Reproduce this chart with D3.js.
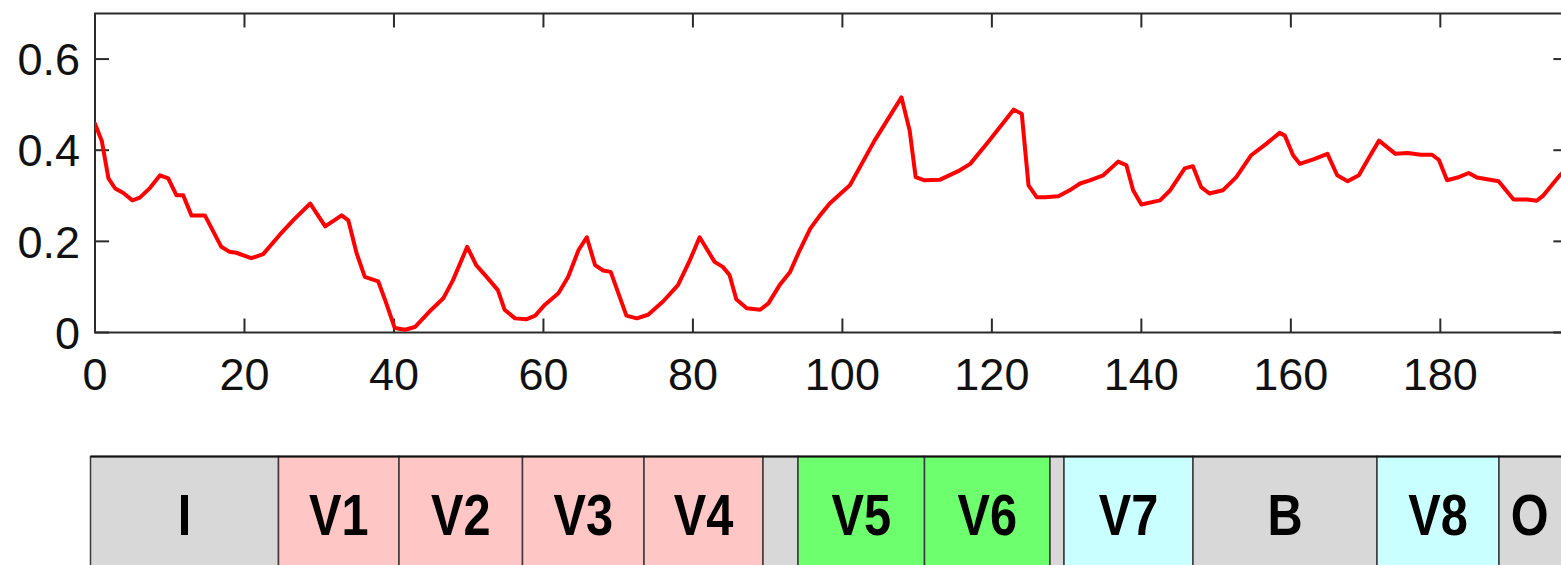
<!DOCTYPE html>
<html>
<head>
<meta charset="utf-8">
<script src="https://cdn.jsdelivr.net/npm/d3@7"></script>
<style>
  html, body { margin: 0; padding: 0; background: #fff; overflow: hidden; }
  svg { display: block; }
</style>
</head>
<body>
<svg id="chart" width="1561" height="565"></svg>
<script>
// ---- data ----
const xs = [0, 0.9, 1.8, 2.7, 3.8, 5.0, 6.0, 7.4, 8.7, 9.8, 10.9, 11.8, 12.9, 14.7, 16.9, 18.0, 18.9, 20.9, 22.5, 24.7, 26.5, 28.8, 30.8, 33.0, 33.9, 35.0, 36.1, 37.9, 38.8, 40.1, 41.5, 42.8, 45.0, 46.6, 47.9, 49.8, 51.0, 52.4, 53.9, 54.8, 56.2, 57.7, 58.9, 60.2, 62.0, 63.3, 64.7, 65.8, 66.9, 68.0, 69.0, 71.1, 72.5, 74.0, 76.0, 78.0, 79.6, 80.9, 82.9, 84.0, 84.9, 85.8, 87.2, 89.0, 90.1, 91.6, 93.0, 94.3, 95.7, 97.0, 98.3, 101.0, 104.3, 107.9, 109.0, 109.8, 111.0, 113.0, 115.5, 117.1, 119.5, 122.9, 124.0, 124.9, 126.0, 127.1, 128.9, 130.4, 131.8, 133.1, 134.9, 136.9, 138.0, 138.9, 140.0, 142.5, 143.8, 145.8, 146.9, 148.0, 149.1, 150.9, 152.7, 154.7, 156.7, 158.5, 159.2, 160.3, 161.2, 163.0, 164.9, 166.2, 167.6, 169.1, 170.5, 171.8, 174.0, 175.6, 177.4, 178.9, 179.8, 180.9, 182.3, 183.8, 184.9, 187.8, 189.8, 191.6, 192.9, 193.8, 196.0, 197.0];
const values = [0.458, 0.421, 0.338, 0.316, 0.306, 0.290, 0.296, 0.318, 0.345, 0.338, 0.301, 0.301, 0.257, 0.257, 0.188, 0.177, 0.175, 0.163, 0.172, 0.214, 0.246, 0.283, 0.233, 0.257, 0.246, 0.174, 0.122, 0.112, 0.072, 0.010, 0.006, 0.012, 0.050, 0.075, 0.115, 0.188, 0.148, 0.122, 0.093, 0.050, 0.031, 0.029, 0.037, 0.061, 0.086, 0.122, 0.181, 0.209, 0.148, 0.136, 0.133, 0.037, 0.031, 0.039, 0.068, 0.104, 0.159, 0.209, 0.155, 0.144, 0.126, 0.073, 0.053, 0.050, 0.064, 0.104, 0.133, 0.181, 0.228, 0.257, 0.283, 0.323, 0.421, 0.516, 0.443, 0.341, 0.334, 0.335, 0.354, 0.370, 0.418, 0.489, 0.480, 0.323, 0.297, 0.297, 0.299, 0.312, 0.327, 0.334, 0.345, 0.375, 0.367, 0.312, 0.281, 0.290, 0.311, 0.360, 0.365, 0.319, 0.305, 0.312, 0.341, 0.389, 0.414, 0.438, 0.432, 0.389, 0.370, 0.380, 0.392, 0.345, 0.332, 0.345, 0.385, 0.421, 0.392, 0.394, 0.390, 0.390, 0.379, 0.334, 0.340, 0.350, 0.340, 0.332, 0.292, 0.292, 0.289, 0.301, 0.345, 0.360];
const xTicks = [0, 20, 40, 60, 80, 100, 120, 140, 160, 180];
const yTicks = [0, 0.2, 0.4, 0.6];
const yTickLabels = ["0", "0.2", "0.4", "0.6"];

// region bar (segment boundaries along the region track)
const segLabels = ["I", "V1", "V2", "V3", "V4", "", "V5", "V6", "", "V7", "B", "V8", "O"];
const segStarts = [0, 188, 308.5, 432, 553.5, 672.5, 707.5, 834, 959.5, 973.5, 1102.5, 1286.5, 1408.5];
const segEnds   = [188, 308.5, 432, 553.5, 672.5, 707.5, 834, 959.5, 973.5, 1102.5, 1286.5, 1408.5, 1470];
const segKinds  = ["gray", "pink", "pink", "pink", "pink", "gray", "green", "green", "gray", "cyan", "gray", "cyan", "gray"];

// ---- layout ----
const svg = d3.select("#chart");
const m = { left: 95, top: 13.5, bottom: 332.5 };
const x = d3.scaleLinear().domain([0, 197]).range([m.left, m.left + 197 * 7.474]);
const y = d3.scaleLinear().domain([0, 0.7]).range([m.bottom, m.top]);
const axisColor = "#2b2b2b";
const fontFam = "'Liberation Sans', Arial, sans-serif";

// plot frame
const gAx = svg.append("g");
gAx.append("rect")
  .attr("x", x(0)).attr("y", y(0.7))
  .attr("width", x(197) - x(0)).attr("height", y(0) - y(0.7))
  .attr("fill", "none").attr("stroke", axisColor).attr("stroke-width", 2);

// inward ticks
const tickLen = 14;
gAx.selectAll(".xtb").data(xTicks).enter().append("line")
  .attr("x1", d => x(d)).attr("x2", d => x(d))
  .attr("y1", y(0)).attr("y2", y(0) - tickLen)
  .attr("stroke", axisColor).attr("stroke-width", 2);
gAx.selectAll(".xtt").data(xTicks).enter().append("line")
  .attr("x1", d => x(d)).attr("x2", d => x(d))
  .attr("y1", y(0.7)).attr("y2", y(0.7) + tickLen)
  .attr("stroke", axisColor).attr("stroke-width", 2);
gAx.selectAll(".ytl").data(yTicks).enter().append("line")
  .attr("x1", x(0)).attr("x2", x(0) + tickLen)
  .attr("y1", d => y(d)).attr("y2", d => y(d))
  .attr("stroke", axisColor).attr("stroke-width", 2);
gAx.selectAll(".ytr").data(yTicks).enter().append("line")
  .attr("x1", x(197)).attr("x2", x(197) - tickLen)
  .attr("y1", d => y(d)).attr("y2", d => y(d))
  .attr("stroke", axisColor).attr("stroke-width", 2);

// tick labels
gAx.selectAll(".xl").data(xTicks).enter().append("text")
  .attr("x", d => x(d)).attr("y", 390)
  .attr("text-anchor", "middle")
  .attr("font-family", fontFam).attr("font-size", 45).attr("fill", "#111")
  .text(d => d);
gAx.selectAll(".yl").data(yTicks).enter().append("text")
  .attr("x", 80).attr("y", d => y(d))
  .attr("dy", "0.36em")
  .attr("text-anchor", "end")
  .attr("font-family", fontFam).attr("font-size", 45).attr("fill", "#111")
  .text((d, i) => yTickLabels[i]);

// line
const pts = xs.map((d, i) => [d, values[i]]);
const clipId = "plotclip";
svg.append("clipPath").attr("id", clipId).append("rect")
  .attr("x", x(0)).attr("y", y(0.7) - 5).attr("width", x(197) - x(0)).attr("height", y(0) - y(0.7) + 10);
svg.append("path")
  .datum(pts)
  .attr("clip-path", `url(#${clipId})`)
  .attr("fill", "none").attr("stroke", "#ff0000").attr("stroke-width", 4)
  .attr("stroke-linejoin", "round").attr("stroke-linecap", "round")
  .attr("d", d3.line().x(d => x(d[0])).y(d => y(d[1])));

// region bar
const fills = { gray: "#d8d8d8", pink: "#ffc6c6", green: "#6dff6d", cyan: "#c9ffff" };
const s = d3.scaleLinear().domain([0, 1470]).range([90.5, 1560.5]);
const barTop = 456.5, barBottom = 640;
const gSeg = svg.append("g");
gSeg.selectAll("rect").data(segLabels).enter().append("rect")
  .attr("x", (d, i) => s(segStarts[i])).attr("y", barTop)
  .attr("width", (d, i) => s(segEnds[i]) - s(segStarts[i]) + (i === segLabels.length - 1 ? 40 : 0))
  .attr("height", barBottom - barTop)
  .attr("fill", (d, i) => fills[segKinds[i]])
  .attr("stroke", "#3a3a3a").attr("stroke-width", 1.5);
gSeg.append("line")
  .attr("x1", s(0)).attr("x2", s(1470) + 10).attr("y1", barTop).attr("y2", barTop)
  .attr("stroke", "#111").attr("stroke-width", 2);
gSeg.selectAll("text").data(segLabels).enter().append("text")
  .attr("transform", (d, i) => `translate(${(s(segStarts[i]) + s(segEnds[i])) / 2},535) scale(0.84,1)`)
  .attr("text-anchor", "middle")
  .attr("font-family", fontFam).attr("font-weight", "bold").attr("font-size", 58).attr("fill", "#000")
  .text(d => d);
</script>
</body>
</html>
